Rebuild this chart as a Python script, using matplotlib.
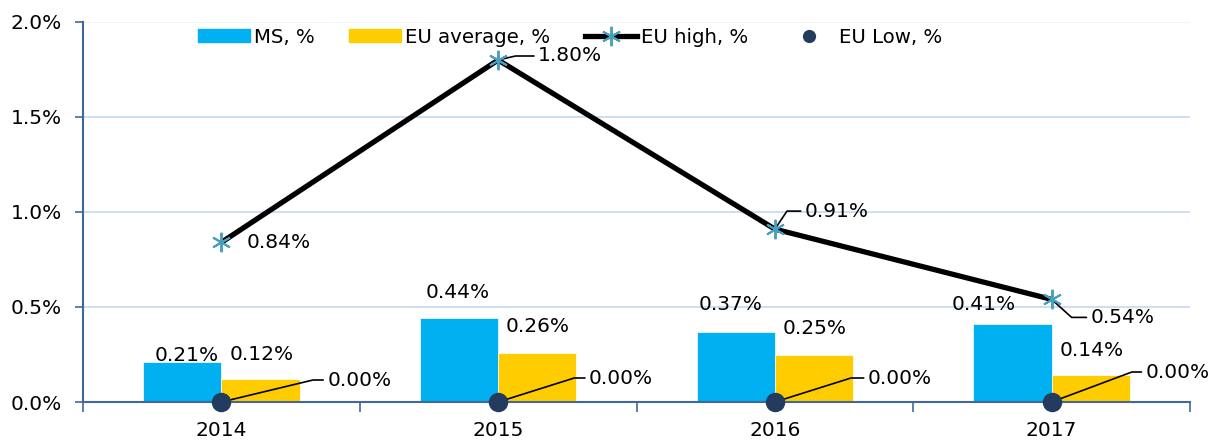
import numpy as np
import matplotlib
matplotlib.use("Agg")
import matplotlib.pyplot as plt
from matplotlib.patches import Patch
from matplotlib.lines import Line2D
from matplotlib.ticker import FuncFormatter

# --- Data ---
years = ["2014", "2015", "2016", "2017"]
ms_pct = [0.21, 0.44, 0.37, 0.41]
eu_avg_pct = [0.12, 0.26, 0.25, 0.14]
eu_high_pct = [0.84, 1.80, 0.91, 0.54]
eu_low_pct = [0.00, 0.00, 0.00, 0.00]

# label offsets in pixels (dx, dy) from the anchor point (label centre)
ms_lbl_off = [(4, 7), (-1, 26), (-5, 27), (-29, 20)]
avg_lbl_off = [(1, 25), (0, 26), (1, 26), (1, 25)]
# text left edge / centre offsets for the leader-line labels
high_lbl_off = [(25, 0), (40, 4), (30, 18), (39, -18)]
high_leader_ang = [None, 13, 56, -42]
low_lbl_off = [(106, 22), (91, 24), (93, 24), (94, 30)]
low_leader_ang = [13.5, 17.5, 17.5, 20.5]

C_MS = "#00b0f0"
C_AVG = "#ffcc00"
C_HIGH_MK = "#4a9fbf"
C_LOW = "#233b5e"
C_AXIS = "#41689c"
C_GRID = "#c3d9ee"
FS = 14.5

plt.rcParams['font.family'] = ['DejaVu Sans']

fig = plt.figure(figsize=(12.17, 4.42), dpi=100)
ax = fig.add_axes([83 / 1217, 40 / 442, 1107 / 1217, 380 / 442])

x = np.arange(len(years))
w = 0.283
ax.bar(x - w / 2, ms_pct, w, color=C_MS, edgecolor="white", linewidth=0.5, zorder=2)
ax.bar(x + w / 2, eu_avg_pct, w, color=C_AVG, edgecolor="white", linewidth=0.5, zorder=2)
ax.plot(x, eu_high_pct, color="black", lw=3.8, zorder=3, solid_capstyle="round")
ax.plot(x, eu_high_pct, ls="none", marker=(6, 2, 0), ms=14, mew=1.4, mec=C_HIGH_MK, zorder=4)
ax.plot(x, eu_low_pct, ls="none", marker="o", ms=13, color=C_LOW, zorder=4, clip_on=False)

fmt = lambda v: f"{v:.2f}%"

for i in range(len(years)):
    ax.annotate(fmt(ms_pct[i]), (x[i] - w / 2, ms_pct[i]), xytext=ms_lbl_off[i],
                textcoords="offset pixels", ha="center", va="center", fontsize=FS)
    ax.annotate(fmt(eu_avg_pct[i]), (x[i] + w / 2, eu_avg_pct[i]), xytext=avg_lbl_off[i],
                textcoords="offset pixels", ha="center", va="center", fontsize=FS)


def leader_label(val, xy, off, ang):
    props = None
    if ang is not None:
        props = dict(arrowstyle="-", color="black", lw=1.2, shrinkA=1, shrinkB=0,
                     relpos=(0, 0.5),
                     connectionstyle=f"angle,angleA=0,angleB={ang},rad=0")
    ax.annotate(fmt(val), xy, xytext=off, textcoords="offset pixels",
                ha="left", va="center", fontsize=FS, arrowprops=props)


for i in range(len(years)):
    leader_label(eu_high_pct[i], (x[i], eu_high_pct[i]), high_lbl_off[i], high_leader_ang[i])
    leader_label(eu_low_pct[i], (x[i], eu_low_pct[i]), low_lbl_off[i], low_leader_ang[i])

# --- Axes styling ---
ax.set_xlim(-0.5, len(years) - 0.5)
ax.set_ylim(0, 2.0)
ax.set_yticks([0, 0.5, 1.0, 1.5, 2.0])
ax.yaxis.set_major_formatter(FuncFormatter(lambda v, p: f"{v:.1f}%"))
ax.grid(axis="y", color=C_GRID, lw=1.2, zorder=0)
ax.set_axisbelow(True)
ax.get_ygridlines()[-1].set_color("#eef3f9")

ax.set_xticks(np.arange(-0.5, len(years), 1.0))
ax.set_xticklabels([])
ax.set_xticks(x, minor=True)
ax.set_xticklabels(years, minor=True, fontsize=FS)
ax.tick_params(axis="x", which="major", length=7, width=1.2, color=C_AXIS, direction="out")
ax.tick_params(axis="x", which="minor", length=0, pad=14)
ax.tick_params(axis="y", length=6, width=1.2, color=C_AXIS, labelsize=FS, pad=9)

for s in ["top", "right"]:
    ax.spines[s].set_visible(False)
for s in ["left", "bottom"]:
    ax.spines[s].set_color(C_AXIS)
    ax.spines[s].set_linewidth(1.5)

handles = [
    Patch(color=C_MS, label="MS, %"),
    Patch(color=C_AVG, label="EU average, %"),
    Line2D([], [], color="black", lw=3.8, marker=(6, 2, 0), ms=14, mew=1.4, mec=C_HIGH_MK,
           label="EU high, %"),
    Line2D([], [], ls="none", marker="o", ms=8.5, color=C_LOW, label="EU Low, %"),
]
ax.legend(handles=handles, ncol=4, frameon=False, loc="center",
          bbox_to_anchor=(0.44, 0.96), fontsize=14.2, handlelength=2.65,
          handleheight=0.65, handletextpad=0.2, columnspacing=1.75)

fig.savefig("out.png", dpi=100)
